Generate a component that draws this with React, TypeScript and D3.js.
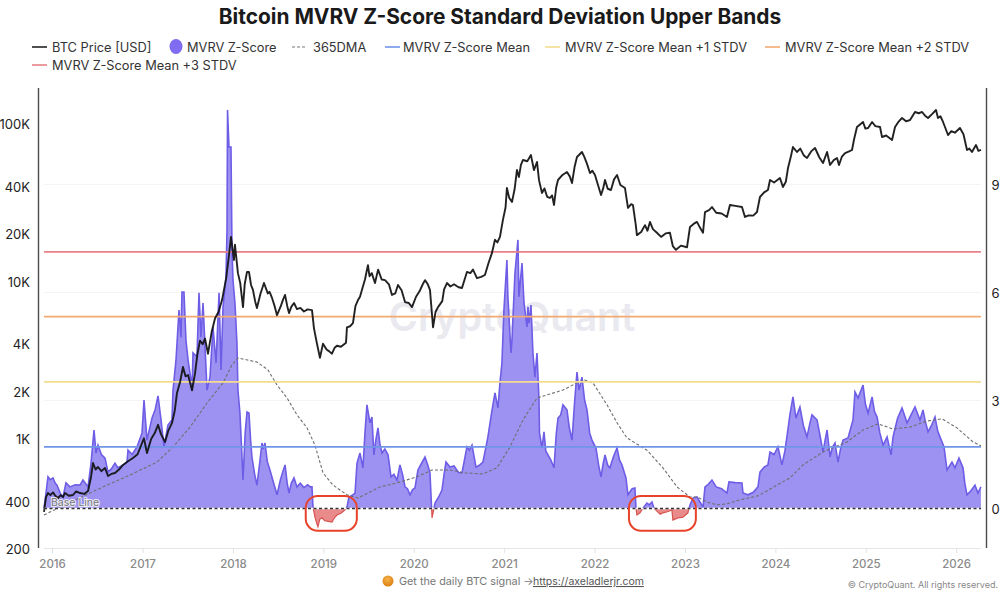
import React from "react";
import * as d3 from "d3";

type Pt = [number, number];

const TITLE = "Bitcoin MVRV Z-Score Standard Deviation Upper Bands";
const yearTicks = [2016, 2017, 2018, 2019, 2020, 2021, 2022, 2023, 2024, 2025, 2026];
const priceTicks = [200, 400, 1000, 2000, 4000, 10000, 20000, 40000, 100000];
const priceTickLabels = ["200", "400", "1K", "2K", "4K", "10K", "20K", "40K", "100K"];
const zTicks = [0, 3, 6, 9];
const bandMean = 1.71;
const bandPlus1 = 3.52;
const bandPlus2 = 5.33;
const bandPlus3 = 7.13;
const alertWindows: Pt[] = [[2018.8, 2019.365], [2022.375, 2023.115]];

const btcPrice: Pt[] = [
  [2015.905, 344], [2015.927, 428], [2015.949, 454], [2015.975, 440], [2016.004, 458], [2016.03, 436], [2016.06, 422], [2016.09, 440], [2016.115, 428], [2016.137, 454], [2016.18, 436], [2016.226, 441], [2016.26, 465], [2016.303, 454], [2016.35, 448], [2016.392, 468], [2016.425, 574], [2016.447, 704], [2016.475, 640], [2016.502, 664], [2016.54, 625], [2016.58, 654], [2016.613, 582], [2016.65, 600], [2016.69, 608], [2016.735, 640], [2016.779, 684], [2016.83, 720], [2016.889, 757], [2016.94, 800], [2016.989, 943],
  [2017.01, 1010], [2017.044, 815], [2017.09, 1000], [2017.13, 1090], [2017.166, 1230], [2017.2, 1070], [2017.244, 957], [2017.28, 1130], [2017.32, 1260], [2017.35, 1500], [2017.376, 1960], [2017.41, 2300], [2017.442, 2870], [2017.47, 2500], [2017.498, 2550], [2017.52, 2280], [2017.542, 2040], [2017.575, 2600], [2017.6, 3400], [2017.63, 4210], [2017.66, 4000], [2017.686, 4340], [2017.719, 3480], [2017.76, 4800], [2017.797, 5850], [2017.835, 6400], [2017.874, 7620], [2017.92, 10500], [2017.951, 14700], [2017.973, 19200],
  [2018.006, 13700], [2018.017, 17100], [2018.05, 11300], [2018.075, 9800], [2018.106, 6880], [2018.125, 9600], [2018.15, 11500], [2018.172, 11500], [2018.195, 9500], [2018.216, 8850], [2018.24, 7500], [2018.26, 6780], [2018.3, 8400], [2018.338, 9780], [2018.38, 8400], [2018.4, 8600], [2018.427, 7860], [2018.455, 7000], [2018.482, 6110], [2018.525, 7000], [2018.55, 7700], [2018.571, 8220], [2018.595, 7000], [2018.615, 6300], [2018.64, 6900], [2018.67, 7300], [2018.703, 6680], [2018.74, 6800], [2018.78, 6450], [2018.82, 6650], [2018.869, 6580], [2018.891, 5040], [2018.924, 4030], [2018.957, 3280], [2018.991, 4030],
  [2019.03, 3700], [2019.06, 3600], [2019.09, 3480], [2019.12, 3800], [2019.145, 3910], [2019.19, 3850], [2019.245, 4080], [2019.256, 5120], [2019.29, 5200], [2019.322, 5440], [2019.35, 7000], [2019.378, 7620], [2019.4, 8000], [2019.422, 8850], [2019.455, 10300], [2019.488, 12700], [2019.505, 10800], [2019.53, 11300], [2019.566, 9780], [2019.6, 11900], [2019.64, 10300], [2019.677, 10200], [2019.72, 9600], [2019.754, 8220], [2019.79, 8400], [2019.82, 9500], [2019.86, 8800], [2019.898, 7400], [2019.94, 7300], [2019.975, 6880],
  [2020.02, 8000], [2020.06, 8700], [2020.09, 9500], [2020.119, 10200], [2020.15, 9600], [2020.174, 8850], [2020.208, 5120], [2020.235, 6400], [2020.263, 6880], [2020.31, 7500], [2020.33, 8900], [2020.362, 9780], [2020.4, 9300], [2020.44, 9600], [2020.49, 9200], [2020.528, 9100], [2020.583, 11500], [2020.62, 11300], [2020.65, 11900], [2020.694, 10500], [2020.74, 10700], [2020.782, 11000], [2020.82, 13000], [2020.86, 15200], [2020.893, 18400], [2020.92, 17700], [2020.948, 19200], [2020.981, 24600],
  [2021.01, 29500], [2021.025, 39200], [2021.05, 34000], [2021.081, 31950], [2021.11, 38500], [2021.136, 51000], [2021.158, 46100], [2021.18, 55000], [2021.203, 59100], [2021.25, 58000], [2021.291, 63500], [2021.324, 51000], [2021.358, 57400], [2021.38, 44000], [2021.413, 36500], [2021.44, 39000], [2021.47, 34500], [2021.501, 33900], [2021.525, 35200], [2021.546, 30600], [2021.57, 39500], [2021.59, 44100], [2021.64, 47500], [2021.689, 49600], [2021.72, 46500], [2021.745, 42200], [2021.775, 54000], [2021.8, 61700], [2021.855, 66400], [2021.88, 62000], [2021.91, 56000], [2021.944, 48800], [2021.97, 50500], [2021.999, 47400],
  [2022.03, 41500], [2022.066, 35400], [2022.09, 39000], [2022.11, 44100], [2022.14, 38800], [2022.176, 38100], [2022.21, 44500], [2022.243, 47400], [2022.28, 41000], [2022.331, 39200], [2022.364, 29300], [2022.4, 31000], [2022.419, 30600], [2022.45, 23000], [2022.463, 19700], [2022.51, 20600], [2022.552, 22800], [2022.58, 21000], [2022.607, 23900], [2022.64, 21500], [2022.684, 20400], [2022.73, 19200], [2022.78, 20200], [2022.828, 20400], [2022.86, 16800], [2022.895, 15900], [2022.95, 16900],
  [2023.017, 16500], [2023.05, 22200], [2023.09, 23200], [2023.127, 23900], [2023.16, 22000], [2023.194, 20400], [2023.216, 27600], [2023.26, 28400], [2023.293, 29700], [2023.34, 27300], [2023.4, 27000], [2023.459, 25700], [2023.492, 30600], [2023.55, 30200], [2023.625, 29700], [2023.658, 25700], [2023.7, 26300], [2023.75, 26200], [2023.791, 27600], [2023.824, 34400], [2023.87, 36800], [2023.912, 38100], [2023.935, 44100], [2023.98, 42500],
  [2024.045, 45400], [2024.078, 39800], [2024.11, 43000], [2024.134, 52500], [2024.165, 62000], [2024.189, 71400], [2024.233, 66400], [2024.27, 69800], [2024.31, 63000], [2024.344, 60800], [2024.39, 67000], [2024.433, 70400], [2024.48, 61500], [2024.521, 56500], [2024.566, 66400], [2024.599, 54900], [2024.64, 59000], [2024.676, 60800], [2024.698, 54900], [2024.73, 62000], [2024.765, 65400], [2024.81, 67000], [2024.842, 68400], [2024.865, 80000], [2024.897, 95700], [2024.964, 103000], [2024.99, 93500],
  [2025.02, 94300], [2025.064, 103000], [2025.1, 97000], [2025.152, 95700], [2025.174, 82700], [2025.22, 84500], [2025.285, 79100], [2025.318, 95700], [2025.36, 104000], [2025.395, 109200], [2025.44, 104000], [2025.484, 106000], [2025.539, 119200], [2025.58, 117000], [2025.617, 119200], [2025.65, 113000], [2025.683, 109200], [2025.73, 116000], [2025.771, 122700], [2025.793, 109200], [2025.82, 112000], [2025.849, 103000], [2025.904, 85100], [2025.94, 90000], [2025.98, 88000],
  [2026.036, 94300], [2026.075, 86000], [2026.114, 68400], [2026.14, 69800], [2026.169, 66400], [2026.213, 73600], [2026.24, 67500], [2026.268, 68400],
];

const zScore: Pt[] = [
  [2015.905, 0.01], [2015.927, 0.43], [2015.949, 0.88], [2015.975, 0.8], [2016.004, 0.85], [2016.03, 0.7], [2016.049, 0.65], [2016.085, 0.42], [2016.115, 0.32], [2016.148, 0.71], [2016.192, 0.6], [2016.25, 0.66], [2016.303, 0.65], [2016.336, 0.79], [2016.392, 0.6], [2016.425, 1.26], [2016.458, 2.18], [2016.48, 1.54], [2016.502, 1.76], [2016.54, 1.5], [2016.58, 1.4], [2016.613, 1.01], [2016.65, 1.1], [2016.69, 1.26], [2016.723, 1.13], [2016.775, 1.2], [2016.823, 1.29], [2016.834, 1.62], [2016.88, 1.5], [2016.933, 1.71], [2016.989, 2.1],
  [2017.011, 3.01], [2017.044, 1.9], [2017.099, 2.51], [2017.135, 2.75], [2017.166, 3.13], [2017.2, 2.45], [2017.232, 1.71], [2017.276, 2.32], [2017.32, 2.46], [2017.332, 3.29], [2017.365, 4.13], [2017.398, 5.51], [2017.42, 4.76], [2017.431, 6.01], [2017.453, 6.01], [2017.475, 4.68], [2017.498, 4.13], [2017.531, 3.57], [2017.542, 3.29], [2017.553, 4.32], [2017.597, 4.21], [2017.619, 5.99], [2017.641, 4.76], [2017.664, 5.71], [2017.686, 4.49], [2017.708, 3.29], [2017.741, 3.65], [2017.774, 5.04], [2017.808, 4.04], [2017.841, 5.99], [2017.863, 3.85], [2017.885, 5.6], [2017.918, 6.43], [2017.929, 7.74], [2017.935, 11.07], [2017.951, 10.04], [2017.973, 10.04], [2017.984, 7.26], [2017.995, 6.35],
  [2018.017, 5.71], [2018.039, 4.6], [2018.05, 3.29], [2018.072, 2.65], [2018.09, 1.7], [2018.106, 0.79], [2018.13, 2.1], [2018.15, 2.68], [2018.172, 2.65], [2018.19, 1.9], [2018.205, 1.43], [2018.235, 0.95], [2018.26, 0.65], [2018.29, 1.25], [2018.316, 1.82], [2018.33, 1.65], [2018.349, 1.82], [2018.375, 1.3], [2018.404, 1.07], [2018.44, 0.75], [2018.482, 0.38], [2018.52, 0.8], [2018.55, 1.05], [2018.571, 1.21], [2018.595, 0.7], [2018.615, 0.43], [2018.64, 0.7], [2018.67, 0.85], [2018.703, 0.6], [2018.74, 0.7], [2018.78, 0.58], [2018.82, 0.66], [2018.85, 0.6], [2018.869, 0.6], [2018.88, 0.04], [2018.902, -0.24], [2018.92, -0.4], [2018.935, -0.51], [2018.955, -0.3], [2018.98, -0.26],
  [2019.01, -0.34], [2019.05, -0.36], [2019.09, -0.38], [2019.12, -0.25], [2019.145, -0.18], [2019.19, -0.13], [2019.234, -0.04], [2019.256, 0.04], [2019.278, 0.32], [2019.31, 0.36], [2019.345, 0.43], [2019.367, 1.26], [2019.4, 1.54], [2019.433, 1.13], [2019.455, 2.1], [2019.477, 2.88], [2019.51, 2.38], [2019.532, 2.54], [2019.554, 1.49], [2019.575, 1.9], [2019.599, 2.24], [2019.62, 1.8], [2019.643, 1.54], [2019.675, 1.65], [2019.71, 1.49], [2019.743, 0.88], [2019.775, 0.95], [2019.809, 0.79], [2019.842, 1.21], [2019.87, 0.95], [2019.898, 0.6], [2019.925, 0.55], [2019.953, 0.38], [2019.98, 0.52],
  [2020.008, 0.57], [2020.041, 1.07], [2020.08, 1.25], [2020.119, 1.43], [2020.15, 1.2], [2020.174, 0.99], [2020.197, -0.26], [2020.23, 0.15], [2020.27, 0.32], [2020.307, 0.51], [2020.33, 0.95], [2020.351, 1.29], [2020.395, 1.15], [2020.44, 1.18], [2020.49, 1.0], [2020.528, 0.99], [2020.583, 1.71], [2020.61, 1.62], [2020.639, 1.76], [2020.683, 1.15], [2020.72, 1.2], [2020.76, 1.29], [2020.815, 1.99], [2020.855, 2.65], [2020.893, 3.21], [2020.926, 2.79], [2020.948, 3.49], [2020.97, 4.04], [2020.992, 5.51],
  [2021.025, 6.9], [2021.036, 5.88], [2021.07, 4.32], [2021.081, 4.68], [2021.114, 6.54], [2021.147, 7.46], [2021.158, 5.88], [2021.192, 6.82], [2021.214, 5.71], [2021.247, 5.04], [2021.258, 5.6], [2021.269, 5.15], [2021.291, 5.65], [2021.313, 4.32], [2021.335, 3.65], [2021.358, 4.32], [2021.38, 3.01], [2021.385, 2.1], [2021.413, 1.68], [2021.435, 2.13], [2021.455, 1.6], [2021.479, 1.49], [2021.51, 1.35], [2021.546, 1.13], [2021.57, 2.05], [2021.59, 2.51], [2021.62, 2.6], [2021.645, 2.88], [2021.689, 2.74], [2021.715, 2.25], [2021.745, 1.9], [2021.775, 3.0], [2021.8, 3.79], [2021.822, 3.29], [2021.855, 3.65], [2021.885, 3.0], [2021.911, 2.74], [2021.94, 2.1], [2021.966, 1.9],
  [2022.01, 1.68], [2022.04, 1.2], [2022.066, 0.88], [2022.09, 1.25], [2022.11, 1.49], [2022.14, 1.2], [2022.165, 1.13], [2022.205, 1.45], [2022.243, 1.68], [2022.27, 1.35], [2022.298, 1.21], [2022.342, 0.85], [2022.364, 0.38], [2022.41, 0.55], [2022.441, 0.57], [2022.452, 0.04], [2022.463, -0.18], [2022.497, -0.12], [2022.53, 0.01], [2022.574, 0.15], [2022.6, 0.1], [2022.63, 0.18], [2022.652, 0.01], [2022.696, -0.1], [2022.72, -0.16], [2022.751, -0.12], [2022.8, -0.09], [2022.85, -0.04], [2022.861, -0.32], [2022.915, -0.26], [2022.972, -0.24],
  [2023.027, -0.12], [2023.05, 0.1], [2023.083, 0.29], [2023.127, 0.32], [2023.16, 0.18], [2023.194, 0.04], [2023.216, 0.6], [2023.255, 0.68], [2023.293, 0.79], [2023.34, 0.6], [2023.4, 0.55], [2023.459, 0.43], [2023.481, 0.74], [2023.55, 0.72], [2023.625, 0.71], [2023.636, 0.43], [2023.691, 0.38], [2023.75, 0.45], [2023.802, 0.6], [2023.824, 1.01], [2023.87, 1.15], [2023.912, 1.21], [2023.935, 1.57], [2023.98, 1.5],
  [2024.023, 1.71], [2024.067, 1.21], [2024.1, 1.6], [2024.122, 1.99], [2024.155, 2.6], [2024.189, 3.1], [2024.222, 2.51], [2024.266, 2.82], [2024.305, 2.3], [2024.344, 1.99], [2024.375, 2.35], [2024.399, 2.6], [2024.455, 2.46], [2024.49, 2.0], [2024.521, 1.57], [2024.566, 2.18], [2024.599, 1.43], [2024.625, 1.7], [2024.654, 1.82], [2024.687, 1.29], [2024.715, 1.65], [2024.743, 1.9], [2024.798, 1.96], [2024.853, 2.46], [2024.875, 3.24], [2024.909, 3.07], [2024.964, 3.43], [2024.99, 2.9],
  [2025.02, 2.65], [2025.064, 3.1], [2025.09, 2.7], [2025.119, 2.54], [2025.15, 2.1], [2025.186, 1.76], [2025.23, 1.99], [2025.274, 1.49], [2025.296, 1.99], [2025.345, 2.5], [2025.395, 2.79], [2025.451, 2.38], [2025.495, 2.6], [2025.539, 2.82], [2025.594, 2.46], [2025.627, 2.74], [2025.655, 2.4], [2025.683, 2.13], [2025.72, 2.3], [2025.76, 2.54], [2025.79, 2.15], [2025.815, 1.99], [2025.86, 1.71], [2025.893, 1.07], [2025.948, 1.29], [2025.981, 1.13],
  [2026.025, 1.4], [2026.07, 1.13], [2026.09, 0.7], [2026.114, 0.38], [2026.16, 0.5], [2026.202, 0.65], [2026.235, 0.43], [2026.268, 0.6],
];

const dma365: Pt[] = [
  [2015.905, -0.18], [2015.971, -0.1], [2016.06, 0.01], [2016.414, 0.43], [2016.602, 0.65], [2016.856, 0.93], [2017.155, 1.29], [2017.332, 1.71], [2017.52, 2.26], [2017.708, 2.93], [2017.885, 3.49], [2017.984, 3.99], [2018.05, 4.18], [2018.26, 4.07], [2018.382, 3.85], [2018.482, 3.43], [2018.593, 3.07], [2018.703, 2.6], [2018.814, 2.24], [2018.902, 1.76], [2018.991, 0.99],
  [2019.101, 0.65], [2019.256, 0.38], [2019.378, 0.29], [2019.51, 0.46], [2019.621, 0.6], [2019.765, 0.68], [2020.03, 0.88], [2020.197, 1.07], [2020.395, 1.07], [2020.561, 0.99], [2020.76, 0.96], [2020.915, 1.13], [2021.059, 1.71], [2021.203, 2.46], [2021.358, 3.07], [2021.645, 3.29], [2021.8, 3.49], [2021.888, 3.57], [2021.977, 3.49],
  [2022.132, 2.88], [2022.243, 2.38], [2022.353, 1.96], [2022.574, 1.62], [2022.751, 1.13], [2022.906, 0.6], [2023.05, 0.32], [2023.127, 0.32], [2023.238, 0.18], [2023.349, 0.1], [2023.459, 0.13], [2023.603, 0.24], [2023.802, 0.35], [2024.012, 0.65], [2024.156, 0.85], [2024.3, 1.21], [2024.521, 1.57], [2024.786, 1.85], [2024.964, 2.18],
  [2025.13, 2.35], [2025.296, 2.21], [2025.484, 2.26], [2025.672, 2.43], [2025.838, 2.49], [2026.003, 2.24], [2026.18, 1.85], [2026.268, 1.74],
];

const FONT = "Inter, 'Noto Sans', sans-serif";
const C = {
  area: "#9d92f1", outline: "#6e5de6", negArea: "#e98b8b", negLine: "#d8524f",
  mean: "#6f95e8", p1: "#f3dc8e", p2: "#f0aa72", p3: "#e78288",
  axis: "#4a4a4a", tick: "#8a8a8a", ring: "#e8432a",
};

export default function App() {
  const x = d3.scaleLinear().domain([2016, 2026]).range([52.6, 956.7]);
  const yP = d3.scaleLog().domain([1000, 100000]).range([439, 124]);
  const yZ = d3.scaleLinear().domain([0, 9]).range([508.5, 184.5]);
  const xL = x(2015.905), xR = x(2026.268);

  const areaZ = d3.area<Pt>().x(d => x(d[0])).y0(yZ(0)).y1(d => yZ(d[1]));
  const lineZ = d3.line<Pt>().x(d => x(d[0])).y(d => yZ(d[1]));
  const lineP = d3.line<Pt>().x(d => x(d[0])).y(d => yP(d[1]));

  const bands: [number, string][] = [[bandMean, C.mean], [bandPlus1, C.p1], [bandPlus2, C.p2], [bandPlus3, C.p3]];

  const legend: [number, number, number, string, string, boolean][] = [
    [32, 47, 52, "BTC Price [USD]", "#222", false],
    [292, 47, 313, "365DMA", "#777", true],
    [385, 47, 403, "MVRV Z-Score Mean", C.mean, false],
    [545, 47, 565, "MVRV Z-Score Mean +1 STDV", C.p1, false],
    [765, 47, 785, "MVRV Z-Score Mean +2 STDV", C.p2, false],
    [32, 65, 52, "MVRV Z-Score Mean +3 STDV", C.p3, false],
  ];

  return (
    <svg width={1000} height={600} viewBox="0 0 1000 600"
      style={{ position: "fixed", left: 0, top: 0, background: "#fff", fontFamily: FONT }}>
      <defs>
        <clipPath id="above"><rect x={0} y={0} width={1000} height={yZ(0)} /></clipPath>
        <clipPath id="below"><rect x={0} y={yZ(0)} width={1000} height={100} /></clipPath>
        <radialGradient id="coin" cx="45%" cy="35%" r="70%">
          <stop offset="0%" stopColor="#f6b24a" />
          <stop offset="100%" stopColor="#d97a0c" />
        </radialGradient>
        <filter id="soft" x="-2%" y="-2%" width="104%" height="104%">
          <feGaussianBlur stdDeviation="0.35" />
        </filter>
      </defs>

      <text x={500} y={24} textAnchor="middle" fontSize={20.9} fontWeight={700} fill="#1a1a1a">{TITLE}</text>

      {legend.map(([lx, ly, tx, label, color, dashed]) => (
        <g key={label}>
          <line x1={lx} x2={lx + 15} y1={ly} y2={ly} stroke={color} strokeWidth={dashed ? 1.2 : 1.6} strokeDasharray={dashed ? "3 2" : undefined} />
          <text x={tx} y={ly + 4.5} fontSize={12.8} fill="#333">{label}</text>
        </g>
      ))}
      <ellipse cx={176} cy={46.5} rx={6.5} ry={7.5} fill="#7f6cf0" />
      <text x={187} y={51.5} fontSize={12.8} fill="#333">MVRV Z-Score</text>

      <text x={512} y={331} textAnchor="middle" fontSize={39.5} fontWeight={600} fill="#e9e9ef">CryptoQuant</text>

      {zTicks.slice(1).map(t => (
        <line key={t} x1={xL} x2={xR} y1={yZ(t)} y2={yZ(t)} stroke="#f4f4f4" />
      ))}

      <g filter="url(#soft)">
        <path d={areaZ(zScore)!} fill={C.area} clipPath="url(#above)" />
        <path d={areaZ(zScore)!} fill={C.negArea} clipPath="url(#below)" />
        <path d={lineZ(zScore)!} fill="none" stroke={C.outline} strokeWidth={1.6} clipPath="url(#above)" />
        <path d={lineZ(zScore)!} fill="none" stroke={C.negLine} strokeWidth={1.2} clipPath="url(#below)" />
        <path d={lineZ(dma365)!} fill="none" stroke="#6f6f6f" strokeWidth={1.1} strokeDasharray="3 2" />
        {bands.map(([v, c]) => (
          <line key={v} x1={xL} x2={xR} y1={yZ(v)} y2={yZ(v)} stroke={c} strokeWidth={1.8} />
        ))}
        <path d={lineP(btcPrice)!} fill="none" stroke="#111" strokeWidth={1.9} strokeOpacity={0.92} strokeLinejoin="round" />
      </g>

      <line x1={xL} x2={xR} y1={yZ(0)} y2={yZ(0)} stroke="#fff" strokeWidth={1.6} />
      <line x1={xL} x2={xR} y1={yZ(0)} y2={yZ(0)} stroke="#333" strokeWidth={1.6} strokeDasharray="3 2.5" />
      <text x={51} y={506} fontSize={10.5} fill="#777" stroke="#fff" strokeWidth={2} paintOrder="stroke" strokeOpacity={0.8}>Base Line</text>

      {alertWindows.map(([a, b]) => (
        <rect key={a} x={x(a)} y={yZ(0.35)} width={x(b) - x(a)} height={yZ(-0.62) - yZ(0.35)} rx={12} fill="none" stroke={C.ring} strokeWidth={2} />
      ))}

      <line x1={38.5} x2={38.5} y1={88} y2={548} stroke={C.axis} strokeWidth={1.4} />
      <line x1={986.5} x2={986.5} y1={88} y2={548} stroke={C.axis} strokeWidth={1.4} />
      <line x1={xL} x2={xR} y1={548.5} y2={548.5} stroke="#e6e6e6" />

      {priceTicks.map((v, i) => (
        <text key={v} x={30} y={yP(v) + 5} textAnchor="end" fontSize={13} fill="#222">{priceTickLabels[i]}</text>
      ))}
      {zTicks.map(t => (
        <text key={t} x={991.5} y={yZ(t) + 5} fontSize={13} fill="#222">{t}</text>
      ))}
      {yearTicks.map(t => (
        <g key={t}>
          <line x1={x(t)} x2={x(t)} y1={548} y2={553} stroke="#e2e2e2" />
          <text x={x(t)} y={568} textAnchor="middle" fontSize={11.5} fontWeight={500} fill={C.tick}>{t}</text>
        </g>
      ))}

      <circle cx={388} cy={581} r={5.5} fill="url(#coin)" />
      <text x={399} y={585} fontSize={10.8} fill="#777">Get the daily BTC signal →</text>
      <text x={533} y={585} fontSize={10.5} fill="#555" textDecoration="underline">https://axeladlerjr.com</text>
      <text x={998} y={588} textAnchor="end" fontSize={9} fill="#888">© CryptoQuant. All rights reserved.</text>
    </svg>
  );
}
